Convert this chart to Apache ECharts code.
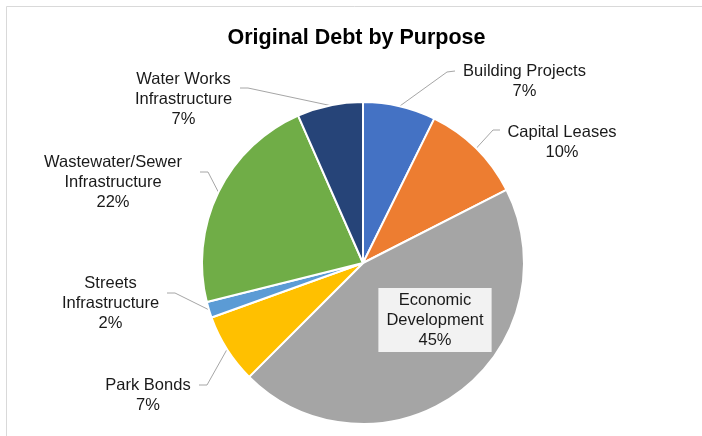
<!DOCTYPE html>
<html>
<head>
<meta charset="utf-8">
<script src="https://cdn.jsdelivr.net/npm/echarts@6/dist/echarts.min.js"></script>
<style>
html,body{margin:0;padding:0;background:#fff;}
#main{width:702px;height:436px;}
</style>
</head>
<body>
<div id="main"></div>
<script>
const titleText = 'Original Debt by Purpose';
const categories = ['Building Projects','Capital Leases','Economic Development','Park Bonds','Streets Infrastructure','Wastewater/Sewer Infrastructure','Water Works Infrastructure'];
const labelNames = ['Building Projects','Capital Leases','Economic\nDevelopment','Park Bonds','Streets\nInfrastructure','Wastewater/Sewer\nInfrastructure','Water Works\nInfrastructure'];
const values = [7.3, 10.2, 45.0, 7.0, 1.6, 22.3, 6.6];
const colors = ['#4472C4','#ED7D31','#A5A5A5','#FFC000','#5B9BD5','#70AD47','#264478'];

// label placement (layout only)
const CX = 363, CY = 263, R = 161;
const labelPos = [[524.5,81.5],[562,142],[435,320],[148,395.5],[110.5,303],[113,182.5],[183.5,99]];
const leaderElbow = [[447,72],[493,130],null,[207,385],[175,293],[208,172],[248,88]];
const leaderEnd = [[455,71],[500,130],null,[199,385],[167,293],[200,172],[240,88]];

const total = values.reduce((a,b)=>a+b,0);
function edgePoint(i){
  let cum = 0;
  for (let k=0;k<i;k++) cum += values[k];
  const f = (cum + values[i]/2)/total;
  const t = f*2*Math.PI;
  return [CX + R*Math.sin(t), CY - R*Math.cos(t)];
}

const data = categories.map((c,i)=>{
  const item = {name: c, value: values[i], itemStyle:{color: colors[i]}};
  if (i === 2) {
    item.label = {position:'inside', backgroundColor:'#F2F2F2', padding:[2,8,2,8]};
    item.labelLine = {show:false};
  }
  return item;
});

const chart = echarts.init(document.getElementById('main'), null, {renderer:'canvas'});
chart.setOption({
  animation:false,
  backgroundColor:'#ffffff',
  graphic:[
    {type:'rect', shape:{x:6.5,y:6.5,width:900,height:900}, style:{fill:'none', stroke:'#D9D9D9', lineWidth:1}, silent:true, z:-1},
    {type:'text', style:{x:356.5, y:38, text:titleText, textAlign:'center', textVerticalAlign:'middle', font:'bold 21.5px "Liberation Sans", Arial, sans-serif', fill:'#000'}}
  ],
  series:[{
    type:'pie',
    center:[CX, CY],
    radius:[0, R],
    startAngle:90,
    clockwise:true,
    avoidLabelOverlap:false,
    itemStyle:{borderColor:'#ffffff', borderWidth:2},
    emphasis:{disabled:true},
    label:{
      show:true,
      position:'outside',
      fontFamily:'"Liberation Sans", Arial, sans-serif',
      fontSize:16.5,
      lineHeight:20,
      color:'#1a1a1a',
      align:'center',
      formatter:(p)=> labelNames[p.dataIndex] + '\n' + Math.round(p.value/total*100) + '%'
    },
    labelLine:{show:true, smooth:false, lineStyle:{color:'#A6A6A6', width:1}},
    labelLayout:function(params){
      const i = params.dataIndex;
      const out = {x: labelPos[i][0], y: labelPos[i][1], align:'center', verticalAlign:'middle'};
      if (leaderElbow[i]) {
        const s = (params.labelLinePoints && params.labelLinePoints[0]) ? params.labelLinePoints[0] : edgePoint(i);
        out.labelLinePoints = [[s[0], s[1]], leaderElbow[i], leaderEnd[i]];
      }
      return out;
    },
    data: data
  }]
});
</script>
</body>
</html>
